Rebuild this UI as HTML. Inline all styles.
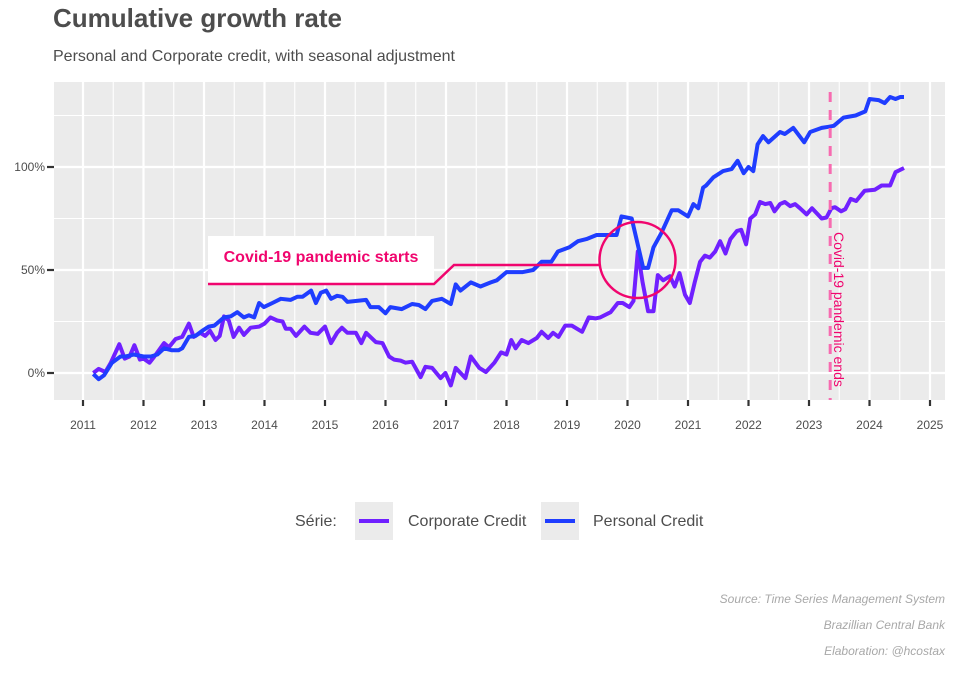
<!DOCTYPE html>
<html><head><meta charset="utf-8"><style>
body{margin:0;background:#fff;}
svg{font-family:"Liberation Sans",sans-serif;}
</style></head><body>
<svg id="c" width="960" height="672" viewBox="0 0 960 672" xmlns="http://www.w3.org/2000/svg">
<text x="53" y="27" font-size="26" font-weight="bold" fill="#4d4d4d">Cumulative growth rate</text>
<text x="53" y="61" font-size="16" fill="#4d4d4d">Personal and Corporate credit, with seasonal adjustment</text>
<rect x="54" y="82" width="891" height="318" fill="#ebebeb"/>
<g id="grid"></g>
<g id="axes"></g>
<g id="series"></g>
<g id="annot"></g>
<g>
<text x="295" y="526" font-size="16" fill="#4d4d4d">Série:</text>
<rect x="355" y="502" width="38" height="38" fill="#ebebeb"/>
<line x1="359" y1="521" x2="389" y2="521" stroke="#7020ff" stroke-width="4"/>
<text x="408" y="526" font-size="16" fill="#4d4d4d">Corporate Credit</text>
<rect x="541" y="502" width="38" height="38" fill="#ebebeb"/>
<line x1="545" y1="521" x2="575" y2="521" stroke="#1f3dff" stroke-width="4"/>
<text x="593" y="526" font-size="16" fill="#4d4d4d">Personal Credit</text>
</g>
<g font-size="12" font-style="italic" fill="#a8a8a8" text-anchor="end">
<text x="945" y="603">Source: Time Series Management System</text>
<text x="945" y="629">Brazillian Central Bank</text>
<text x="945" y="655">Elaboration: @hcostax</text>
</g>
</svg>
<script>
const xTickYears=[2011,2012,2013,2014,2015,2016,2017,2018,2019,2020,2021,2022,2023,2024,2025];
const yTickValues=[0,50,100];
const yTickLabels=["0%","50%","100%"];
const personalDates=[2011.17,2011.26,2011.35,2011.48,2011.62,2011.7,2011.84,2012.0,2012.12,2012.23,2012.34,2012.47,2012.58,2012.64,2012.75,2012.86,2012.97,2013.08,2013.17,2013.33,2013.44,2013.55,2013.66,2013.74,2013.83,2013.91,2013.99,2014.13,2014.27,2014.43,2014.54,2014.63,2014.77,2014.85,2014.93,2015.02,2015.1,2015.2,2015.29,2015.37,2015.68,2015.75,2015.89,2016.0,2016.08,2016.27,2016.44,2016.55,2016.66,2016.77,2016.93,2017.08,2017.16,2017.24,2017.41,2017.57,2017.74,2017.84,2018.0,2018.27,2018.44,2018.58,2018.74,2018.85,2019.04,2019.18,2019.32,2019.49,2019.82,2019.9,2020.07,2020.26,2020.34,2020.43,2020.56,2020.73,2020.84,2021.0,2021.09,2021.17,2021.25,2021.3,2021.42,2021.58,2021.72,2021.82,2021.92,2022.0,2022.08,2022.15,2022.24,2022.33,2022.52,2022.6,2022.74,2022.92,2023.02,2023.21,2023.32,2023.41,2023.57,2023.77,2023.93,2024.0,2024.15,2024.25,2024.34,2024.43,2024.51,2024.57];
const personalValues=[-0.5,-3,-1,5,8,8,9,8,8,9,12,11,11,12,17.5,18,20.5,22.5,23,27,27.5,29.5,27,28,27,34,32,34,36,35.5,37,37,40,34,39,40,36,37.5,37,34.5,35.5,32,32,29,32,31,33.5,33,31,35,36,33.5,43,40,44,42,44,45,49,49,50,54,54,59,61,64,65,67,67,76,75,51,51,61,68,79,79,76,82,80,90,91,95,98,99,103,97,100,98,111,115,112,117,116,119,112,117,119,119.5,120,124,125,127,133,132.5,131,134,133,134,134];
const corporateDates=[2011.17,2011.26,2011.37,2011.46,2011.6,2011.69,2011.77,2011.85,2011.94,2012.0,2012.1,2012.18,2012.34,2012.42,2012.53,2012.64,2012.75,2012.83,2012.94,2013.02,2013.1,2013.19,2013.26,2013.33,2013.41,2013.49,2013.58,2013.66,2013.77,2013.91,2014.0,2014.1,2014.21,2014.3,2014.35,2014.43,2014.52,2014.66,2014.76,2014.88,2015.0,2015.1,2015.2,2015.28,2015.37,2015.51,2015.6,2015.68,2015.84,2015.95,2016.06,2016.14,2016.25,2016.33,2016.44,2016.58,2016.66,2016.77,2016.91,2016.99,2017.08,2017.16,2017.32,2017.41,2017.55,2017.66,2017.8,2017.91,2018.0,2018.08,2018.15,2018.25,2018.36,2018.5,2018.58,2018.69,2018.77,2018.86,2018.97,2019.08,2019.25,2019.36,2019.47,2019.55,2019.72,2019.84,2019.92,2020.03,2020.1,2020.17,2020.25,2020.34,2020.43,2020.5,2020.59,2020.7,2020.78,2020.86,2020.95,2021.03,2021.11,2021.2,2021.28,2021.36,2021.45,2021.53,2021.62,2021.7,2021.81,2021.88,2021.96,2022.03,2022.11,2022.19,2022.28,2022.36,2022.43,2022.52,2022.6,2022.69,2022.77,2022.85,2022.96,2023.05,2023.21,2023.29,2023.37,2023.43,2023.53,2023.6,2023.69,2023.78,2023.92,2024.09,2024.2,2024.34,2024.43,2024.57];
const corporateValues=[0,2,0.5,5,14,7,8,13.5,6.5,7,5,8,14.5,12.5,16.5,17.5,24,17.5,19.5,18,20.5,16,18,27.5,25.5,17.5,22,18.5,22,22.5,24,27,25.5,25,21.5,21.5,18,22.5,19.5,19,22.5,14.5,19.5,22,19.5,19.5,14.5,19.5,15,14.5,8,6.5,6,5,5.5,-2,3,2.5,-2.5,0,-6,2.5,-2.5,8,2.5,0.5,5,10,9,16,12,16,14.5,17,20,17,19.5,17.5,23,23,20,27,26.5,27,29.5,34,34,32,35,59,44,30,30,47.5,45,47,42,48.5,38,34,44,54,57,56,59,64,58,65,69,69.5,62.5,75,77,83,82,82.5,78.5,82,83,81,82,80,77,80,75,75.5,80,80.5,78.5,79.5,84.5,83.5,88.5,89,91,91,97.5,99.5];
const covidEndDate=2023.35;
const NS="http://www.w3.org/2000/svg";
function X(yr){return 83+(yr-2011)*60.5;}
function Y(v){return 373-v*2.06;}
function mk(tag,attrs,parent){const e=document.createElementNS(NS,tag);for(const k in attrs)e.setAttribute(k,attrs[k]);document.getElementById(parent).appendChild(e);return e;}
for(let v=0;v<=125;v+=25){const y=Y(v);const maj=v%50===0;const g=mk('line',{x1:54,x2:945,y1:y,y2:y,stroke:'#fff','stroke-width':maj?2.2:1.1},'grid');}
for(let yr=2010.5;yr<=2025;yr+=0.5){const x=X(yr);if(x<54||x>945)continue;const maj=yr%1===0;const g=mk('line',{x1:x,x2:x,y1:82,y2:400,stroke:'#fff','stroke-width':maj?2.2:1.1},'grid');}
xTickYears.forEach(yr=>{const x=X(yr);const t=mk('line',{x1:x,x2:x,y1:400,y2:406,stroke:'#333','stroke-width':2.2},'axes');
const l=mk('text',{x:x,y:429,'font-size':12,fill:'#4d4d4d','text-anchor':'middle'},'axes');l.textContent=yr;});
yTickValues.forEach((v,i)=>{const y=Y(v);const t=mk('line',{x1:47,x2:54,y1:y,y2:y,stroke:'#333','stroke-width':2.2},'axes');
const l=mk('text',{x:45,y:y+4,'font-size':12,fill:'#4d4d4d','text-anchor':'end'},'axes');l.textContent=yTickLabels[i];});
function path(ds,vs){return ds.map((d,i)=>(i?'L':'M')+X(d).toFixed(1)+','+Y(vs[i]).toFixed(1)).join('');}
const pc=mk('path',{d:path(corporateDates,corporateValues),fill:'none',stroke:'#7020ff','stroke-width':4,'stroke-linejoin':'round'},'series');


const pp=mk('path',{d:path(personalDates,personalValues),fill:'none',stroke:'#1f3dff','stroke-width':4,'stroke-linejoin':'round'},'series');


const ce=X(covidEndDate);
const dl=mk('line',{x1:ce,x2:ce,y1:92,y2:400,stroke:'#f76bb0','stroke-width':3,'stroke-dasharray':'10 8'},'annot');


const et=mk('text',{x:0,y:0,'font-size':14,fill:'#f0056e',transform:'translate('+(ce+4)+',232) rotate(90)'},'annot');
et.textContent='Covid-19 pandemic ends';


const bx=mk('rect',{x:208,y:236,width:226,height:48,fill:'#fff'},'annot');


const cl=mk('path',{d:'M208,284L434,284L454,265L599,265',fill:'none',stroke:'#f0056e','stroke-width':2.5},'annot');


const cc=mk('circle',{cx:637.5,cy:260,r:38,fill:'none',stroke:'#f0056e','stroke-width':2.5},'annot');


const st=mk('text',{x:321,y:262,'font-size':16,'font-weight':'bold',fill:'#f0056e','text-anchor':'middle'},'annot');
st.textContent='Covid-19 pandemic starts';


</script>
</body></html>
